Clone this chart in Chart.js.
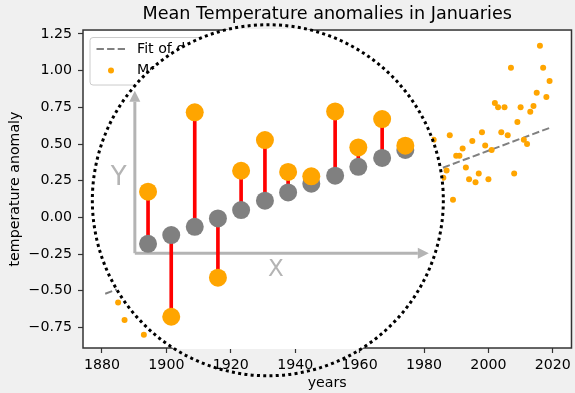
<!DOCTYPE html>
<html lang="en">
<head>
<meta charset="UTF-8">
<title>Mean Temperature anomalies in Januaries</title>
<script src="https://cdn.jsdelivr.net/npm/chart.js"></script>
<style>
  body { margin: 0; background: #f0f0f0; }
  canvas { display: block; }
</style>
</head>
<body>
<canvas id="chart" width="575" height="393"></canvas>
<script>
// measured January anomalies (only those visible outside the lens)
const years = [1885, 1887, 1893, 1983, 1986, 1987, 1988, 1989, 1990, 1991, 1992, 1993, 1994, 1995, 1996, 1997,
  1998, 1999, 2000, 2001, 2002, 2003, 2004, 2005, 2006, 2007, 2008, 2009, 2010, 2011, 2012, 2013, 2014, 2015,
  2016, 2017, 2018, 2019];
const anomalies = [-0.58, -0.70, -0.80, 0.53, 0.27, 0.32, 0.56, 0.12, 0.42, 0.42, 0.47, 0.34, 0.26, 0.52, 0.24, 0.30,
  0.58, 0.49, 0.26, 0.46, 0.78, 0.75, 0.58, 0.75, 0.56, 1.02, 0.30, 0.65, 0.75, 0.53, 0.50, 0.72, 0.76, 0.85,
  1.17, 1.02, 0.82, 0.93];

// linear fit
const fitYears = [1881, 2019];
const fitValues = [-0.52, 0.61];

// magnified residuals inside the lens
const insetYears = [1894.3, 1901.5, 1908.8, 1916.0, 1923.2, 1930.6, 1937.8, 1945.0, 1952.4, 1959.6, 1967.0, 1974.2];
const insetFit = [-0.18, -0.12, -0.064, -0.007, 0.05, 0.114, 0.17, 0.23, 0.284, 0.345, 0.405, 0.46];
const insetMeasured = [0.175, -0.677, 0.716, -0.411, 0.318, 0.527, 0.31, 0.28, 0.722, 0.477, 0.67, 0.489];

const xTicks = [1880, 1900, 1920, 1940, 1960, 1980, 2000, 2020];
const yTicks = [-0.75, -0.5, -0.25, 0, 0.25, 0.5, 0.75, 1.0, 1.25];

// lens and its little axes, in data units
const lens = { x: 1931.5, y: 0.117, r: 54.5 };
const insetAxes = { x0: 1890.2, y0: -0.244, x1: 1981.5, y1: 0.863 };
const insetLabels = [
  { text: 'Y', x: 1885.2, y: 0.27, size: 26 },
  { text: 'X', x: 1934.0, y: -0.357, size: 23 }
];

const FONT = "'DejaVu Sans', sans-serif";
const ORANGE = '#ffa500', GRAY = '#808080', LIGHT = '#b4b4b4';

function arrow(ctx, x0, y0, x1, y1) {
  const ang = Math.atan2(y1 - y0, x1 - x0);
  const len = 11, hw = 5.5;
  const bx = x1 - len * Math.cos(ang), by = y1 - len * Math.sin(ang);
  ctx.beginPath();
  ctx.moveTo(x0, y0);
  ctx.lineTo(bx, by);
  ctx.stroke();
  ctx.beginPath();
  ctx.moveTo(x1, y1);
  ctx.lineTo(bx + hw * Math.sin(ang), by - hw * Math.cos(ang));
  ctx.lineTo(bx - hw * Math.sin(ang), by + hw * Math.cos(ang));
  ctx.closePath();
  ctx.fill();
}

const lensPlugin = {
  id: 'lens',
  beforeDraw(chart) {
    const { ctx, chartArea: a } = chart;
    ctx.save();
    ctx.fillStyle = '#ffffff';
    ctx.fillRect(a.left, a.top, a.right - a.left, a.bottom - a.top);
    ctx.restore();
  },
  beforeDatasetDraw(chart, args) {
    if (args.index !== 2) return;
    const { ctx, chartArea: a, scales: { x, y } } = chart;
    ctx.save();
    // axes frame
    ctx.strokeStyle = '#333333';
    ctx.lineWidth = 1.5;
    ctx.strokeRect(a.left, a.top, a.right - a.left, a.bottom - a.top);

    // legend (mostly hidden behind the lens)
    ctx.font = '14.2px ' + FONT;
    const labels = ['Fit of data', 'Measurements'];
    const w = Math.max(...labels.map(t => ctx.measureText(t).width)) + 54;
    ctx.beginPath();
    ctx.roundRect(a.left + 7, a.top + 7.5, w, 47.5, 3);
    ctx.fillStyle = 'rgba(255,255,255,0.8)';
    ctx.fill();
    ctx.strokeStyle = '#cccccc';
    ctx.lineWidth = 1;
    ctx.stroke();
    ctx.strokeStyle = GRAY;
    ctx.lineWidth = 2;
    ctx.setLineDash([7.4, 3.2]);
    ctx.beginPath();
    ctx.moveTo(a.left + 13.5, a.top + 19);
    ctx.lineTo(a.left + 42, a.top + 19);
    ctx.stroke();
    ctx.setLineDash([]);
    ctx.fillStyle = ORANGE;
    ctx.beginPath();
    ctx.arc(a.left + 28, a.top + 40.5, 3, 0, Math.PI * 2);
    ctx.fill();
    ctx.fillStyle = '#000';
    ctx.textBaseline = 'middle';
    ctx.fillText(labels[0], a.left + 54, a.top + 19);
    ctx.fillText(labels[1], a.left + 54, a.top + 40.5);

    // white lens, clipped to the axes
    const cx = x.getPixelForValue(lens.x), cy = y.getPixelForValue(lens.y);
    const r = x.getPixelForValue(lens.x + lens.r) - cx;
    ctx.save();
    ctx.beginPath();
    ctx.rect(a.left - 1, a.top - 1, a.right - a.left + 2, a.bottom - a.top + 2);
    ctx.clip();
    ctx.beginPath();
    ctx.arc(cx, cy, r, 0, Math.PI * 2);
    ctx.fillStyle = '#ffffff';
    ctx.fill();
    ctx.restore();

    // inset arrows and letters
    const ox = x.getPixelForValue(insetAxes.x0), oy = y.getPixelForValue(insetAxes.y0);
    ctx.strokeStyle = LIGHT;
    ctx.fillStyle = LIGHT;
    ctx.lineWidth = 3;
    arrow(ctx, ox, oy, x.getPixelForValue(insetAxes.x1), oy);
    arrow(ctx, ox, oy, ox, y.getPixelForValue(insetAxes.y1));
    ctx.textAlign = 'center';
    insetLabels.forEach(l => {
      ctx.font = l.size + 'px ' + FONT;
      ctx.fillText(l.text, x.getPixelForValue(l.x), y.getPixelForValue(l.y));
    });
    ctx.restore();
  },
  afterDraw(chart) {
    const { ctx, scales: { x, y } } = chart;
    const cx = x.getPixelForValue(lens.x), cy = y.getPixelForValue(lens.y);
    const r = x.getPixelForValue(lens.x + lens.r) - cx;
    ctx.save();
    ctx.strokeStyle = '#000';
    ctx.lineWidth = 3;
    ctx.setLineDash([3, 3.3]);
    ctx.beginPath();
    ctx.arc(cx, cy, r, 0, Math.PI * 2);
    ctx.stroke();
    ctx.restore();
  }
};

const fmt = v => v.toFixed(2).replace('-', '\u2212');

new Chart(document.getElementById('chart'), {
  type: 'scatter',
  data: {
    datasets: [
      {
        type: 'scatter',
        label: 'Measurements',
        data: years.map((yr, i) => ({ x: yr, y: anomalies[i] })),
        backgroundColor: ORANGE,
        borderWidth: 0,
        pointRadius: 3,
        order: 5
      },
      {
        type: 'line',
        label: 'Fit of data',
        data: fitYears.map((yr, i) => ({ x: yr, y: fitValues[i] })),
        borderColor: GRAY,
        borderWidth: 2,
        borderDash: [7.4, 3.2],
        pointRadius: 0,
        fill: false,
        order: 6
      },
      {
        type: 'bar',
        label: 'residuals',
        data: insetYears.map((yr, i) => ({ x: yr, y: [insetFit[i], insetMeasured[i]] })),
        backgroundColor: '#ff0000',
        borderWidth: 0,
        barThickness: 3,
        order: 4
      },
      {
        type: 'scatter',
        label: 'fit points',
        data: insetYears.map((yr, i) => ({ x: yr, y: insetFit[i] })),
        backgroundColor: GRAY,
        borderWidth: 0,
        pointRadius: 9,
        order: 3
      },
      {
        type: 'scatter',
        label: 'measured points',
        data: insetYears.map((yr, i) => ({ x: yr, y: insetMeasured[i] })),
        backgroundColor: ORANGE,
        borderWidth: 0,
        pointRadius: 9,
        order: 2
      }
    ]
  },
  options: {
    responsive: false,
    animation: false,
    layout: { autoPadding: false, padding: { left: 0, right: 2, top: 0, bottom: 0 } },
    scales: {
      x: {
        type: 'linear',
        offset: false,
        min: 1874.1,
        max: 2025.8,
        afterBuildTicks: s => { s.ticks = xTicks.map(v => ({ value: v })); },
        afterFit: s => { s.height = 45; },
        border: { display: false },
        grid: { offset: false, drawOnChartArea: false, tickLength: 5, tickWidth: 1.2, tickColor: '#333' },
        ticks: { color: '#000', padding: 4, font: { family: FONT, size: 14.2 }, maxRotation: 0, callback: v => String(v) },
        title: { display: true, text: 'years', color: '#000', font: { family: FONT, size: 14.2 }, padding: { top: 0, bottom: 1 } }
      },
      y: {
        type: 'linear',
        min: -0.89,
        max: 1.277,
        afterBuildTicks: s => { s.ticks = yTicks.map(v => ({ value: v })); },
        afterFit: s => { s.width = 83; },
        border: { display: false },
        grid: { drawOnChartArea: false, tickLength: 5, tickWidth: 1.2, tickColor: '#333' },
        ticks: { color: '#000', padding: 6, font: { family: FONT, size: 14.2 }, callback: v => fmt(v) },
        title: { display: true, text: 'temperature anomaly', color: '#000', font: { family: FONT, size: 14.2 }, padding: { top: 6.6, bottom: 0 } }
      }
    },
    plugins: {
      legend: { display: false },
      tooltip: { enabled: false },
      title: {
        display: true,
        fullSize: false,
        text: 'Mean Temperature anomalies in Januaries',
        color: '#000',
        font: { family: FONT, size: 17.6, weight: 'normal' },
        padding: { top: 4, bottom: 4.9 }
      }
    }
  },
  plugins: [lensPlugin]
});
</script>
</body>
</html>
